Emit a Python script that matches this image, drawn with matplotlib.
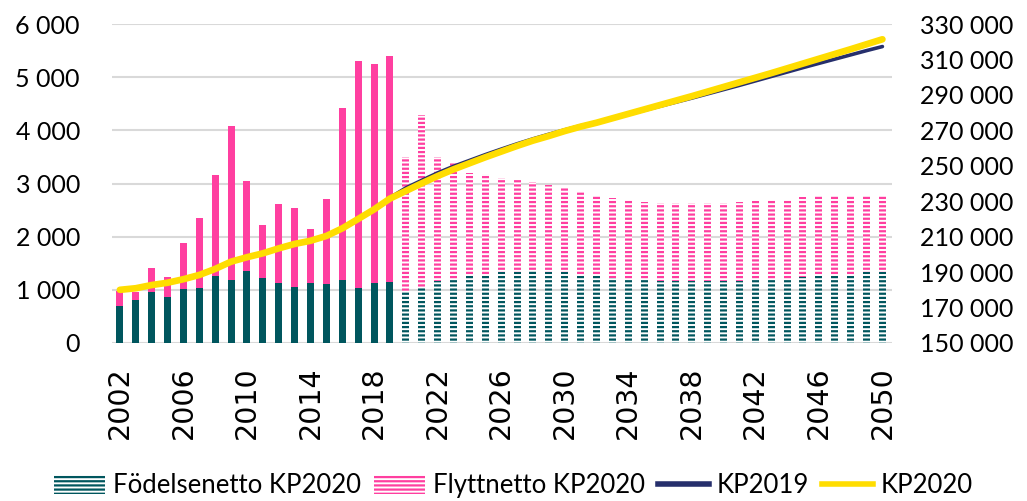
import numpy as np
import matplotlib
matplotlib.use('Agg')
from matplotlib import pyplot as plt
from matplotlib.ticker import FuncFormatter
from matplotlib.lines import Line2D
from matplotlib.patches import Patch

years = list(range(2002, 2051))
last_actual = 2019

fodelsenetto = [695, 808, 960, 865, 1015, 1035, 1265, 1184, 1353, 1222,
                1128, 1053, 1128, 1109, 1184, 1034, 1128, 1147,
                958, 1034, 1172, 1190, 1265, 1265, 1340, 1340, 1353, 1340,
                1334, 1265, 1265, 1215, 1197, 1184, 1165, 1165, 1165, 1165,
                1165, 1172, 1197, 1197, 1209, 1247, 1266, 1266, 1266, 1341,
                1341]
flyttnetto = [290, 150, 450, 375, 865, 1315, 1895, 2895, 1690, 995,
              1485, 1485, 1015, 1600, 3235, 4265, 4115, 4250,
              2538, 3252, 2324, 2193, 1930, 1918, 1760, 1724, 1667, 1623,
              1579, 1585, 1511, 1517, 1491, 1466, 1460, 1460, 1460, 1460,
              1460, 1478, 1478, 1491, 1479, 1497, 1497, 1504, 1510, 1441,
              1441]

kp2020 = [180000, 180900, 182700, 184000, 186000, 188400, 191800, 195900,
          198400, 200600, 203400, 205900, 207700, 210400, 214700, 220000,
          225400, 231500, 235800, 240100, 244200, 248000, 251400, 254800,
          258000, 261200, 264200, 266800, 269600, 272100, 274300, 276800,
          279300, 281800, 284300, 286800, 289300, 291900, 294500, 297100,
          299700, 302300, 305000, 307700, 310400, 313100, 315800, 318600,
          321400]
kp2019_years = list(range(2019, 2051))
kp2019 = [232000, 237500, 241800, 246000, 249700, 253000, 256300, 259400,
          262400, 265200, 267800, 270300, 272600, 274700, 276800, 279000,
          281300, 283600, 285900, 288200, 290600, 293000, 295400, 297900,
          300400, 302900, 305400, 307800, 310200, 312600, 315000, 317300]

TEAL = '#00565e'
PINK = '#ff3fa0'
NAVY = '#262f6c'
YELLOW = '#ffdd00'
GRID = '#d9d9d9'

plt.rcParams['font.family'] = ['Lato', 'DejaVu Sans']
plt.rcParams['hatch.linewidth'] = 1.6


def fmt(v, pos):
    return '{:,.0f}'.format(v).replace(',', ' ')


def main():
    x = np.array(years)
    fod = np.array(fodelsenetto)
    fly = np.array(flyttnetto)
    actual = x <= last_actual
    fc = ~actual
    w = 0.44

    fig = plt.figure(figsize=(10.27, 5.01), dpi=100)
    ax = fig.add_axes([0.109, 0.3154, 0.7595, 0.6366])

    ax.bar(x[actual], fod[actual], width=w, color=TEAL, zorder=2)
    ax.bar(x[actual], fly[actual], bottom=fod[actual], width=w, color=PINK,
           zorder=2)
    ax.bar(x[fc], fod[fc], width=w, facecolor='white', edgecolor=TEAL,
           hatch='----', linewidth=0, zorder=2)
    ax.bar(x[fc], fly[fc], bottom=fod[fc], width=w, facecolor='white',
           edgecolor=PINK, hatch='----', linewidth=0, zorder=2)

    ax.set_ylim(0, 6000)
    ax.set_yticks(np.arange(0, 6001, 1000))
    ax.yaxis.set_major_formatter(FuncFormatter(fmt))
    ax.set_xlim(2001.5, 2050.6)
    ax.set_xticks(np.arange(2002, 2051, 4))
    ax.tick_params(axis='x', labelrotation=90, length=0, pad=17)
    for lbl in ax.get_xticklabels():
        lbl.set_fontfamily('DejaVu Sans')
        lbl.set_fontsize(20.5)
    ax.tick_params(axis='y', length=0, pad=23, labelsize=18)
    ax.grid(axis='y', color=GRID, linewidth=1.5, zorder=0)
    ax.set_axisbelow(True)
    for s in ax.spines.values():
        s.set_visible(False)

    ax2 = ax.twinx()
    ax2.plot(kp2019_years, kp2019, color=NAVY, linewidth=2.6,
             solid_capstyle='round', zorder=3)
    ax2.plot(years, kp2020, color=YELLOW, linewidth=4.8,
             solid_capstyle='round', zorder=4)
    ax2.set_ylim(150000, 330000)
    ax2.set_yticks(np.arange(150000, 330001, 20000))
    ax2.yaxis.set_major_formatter(FuncFormatter(fmt))
    ax2.tick_params(axis='y', length=0, pad=20, labelsize=18)
    for s in ax2.spines.values():
        s.set_visible(False)

    handles = [
        Patch(facecolor='white', edgecolor=TEAL, hatch='----', linewidth=0),
        Patch(facecolor='white', edgecolor=PINK, hatch='----', linewidth=0),
        Line2D([], [], color=NAVY, linewidth=4),
        Line2D([], [], color=YELLOW, linewidth=4),
    ]
    labels = ['Födelsenetto KP2020', 'Flyttnetto KP2020', 'KP2019', 'KP2020']
    fig.legend(handles, labels, loc='center', ncol=4,
               bbox_to_anchor=(0.5, 0.03), frameon=False, fontsize=18.5,
               handlelength=2.0, handleheight=0.8, handletextpad=0.3,
               columnspacing=0.5)

    fig.savefig('out.png', dpi=100)


if __name__ == '__main__':
    main()
